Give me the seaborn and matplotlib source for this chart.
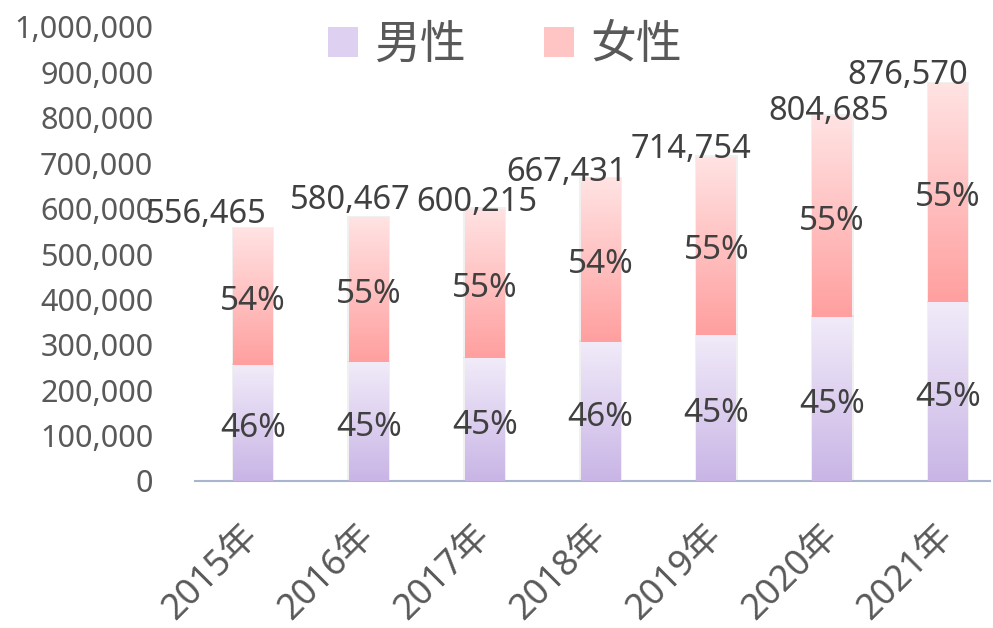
import numpy as np
import pandas as pd
import matplotlib
matplotlib.use("Agg")
import matplotlib.pyplot as plt
import seaborn as sns
from matplotlib.colors import LinearSegmentedColormap
from matplotlib.patches import Rectangle, Patch

years = ['2015年', '2016年', '2017年', '2018年', '2019年', '2020年', '2021年']
totals = [556465, 580467, 600215, 667431, 714754, 804685, 876570]
male = [255974, 261210, 270097, 307018, 321639, 362108, 394457]
male_pct = ['46%', '45%', '45%', '46%', '45%', '45%', '45%']
female_pct = ['54%', '55%', '55%', '54%', '55%', '55%', '55%']

# manual nudges of the total labels (Excel-style hand placement)
total_dx = [-0.40, -0.16, -0.07, -0.29, -0.22, -0.03, -0.35]
total_dy = [14, 17, 6, 5, 7, 4, 8]

sns.set_style("white")
plt.rcParams['font.family'] = ['Noto Sans', 'Noto Sans CJK TC', 'DejaVu Sans']

df = pd.DataFrame({'year': years, 'total': totals, 'male': male})

fig = plt.figure(figsize=(9.93, 6.28), dpi=100)
ax = fig.add_axes([195 / 993, 1 - 481 / 628, (990 - 195) / 993, (481 - 27) / 628])

bw = 0.345
sns.barplot(data=df, x='year', y='total', color='#ffb0b0', width=bw, ax=ax, zorder=2)
sns.barplot(data=df, x='year', y='male', color='#d4c4ec', width=bw, ax=ax, zorder=3)

male_cmap = LinearSegmentedColormap.from_list('m', ['#c9b5e6', '#f1ebf9'])
female_cmap = LinearSegmentedColormap.from_list('f', ['#ff9f9f', '#ffe3e3'])
grad = np.linspace(0, 1, 256).reshape(-1, 1)

n = len(years)
for i, p in enumerate(ax.patches):
    x0, y0 = p.get_x(), p.get_y()
    w, h = p.get_width(), p.get_height()
    if i < n:
        # total bar -> show female part only (from male top to total)
        ybot = male[i]
        cmap = female_cmap
        z = 2.5
    else:
        ybot = 0
        cmap = male_cmap
        z = 3.5
    ytop = y0 + h
    p.set_visible(False)
    # soft shadow
    ax.add_patch(Rectangle((x0 - 0.012, ybot), w + 0.024, ytop - ybot + 3000,
                           facecolor='#000000', alpha=0.06, edgecolor='none', zorder=1))
    clip = Rectangle((x0, ybot), w, ytop - ybot, transform=ax.transData,
                     facecolor='none', edgecolor='none')
    ax.add_patch(clip)
    im = ax.imshow(grad, cmap=cmap, origin='lower', aspect='auto',
                   extent=(x0, x0 + w, ybot, ytop), zorder=z)
    im.set_clip_path(clip)

ax.set_xlim(-0.5, n - 0.5 - 16 / 116)
ax.set_ylim(0, 1000000)
ax.set_yticks(np.arange(0, 1000001, 100000))
ax.yaxis.set_major_formatter(matplotlib.ticker.FuncFormatter(lambda v, _: f'{int(v):,}'))
ax.tick_params(axis='y', labelsize=22, colors='#595959', length=0, pad=30)
ax.set_xticks(range(n))
ax.set_xticklabels(years, rotation=45, ha='right', rotation_mode='anchor', va='center')
ax.tick_params(axis='x', labelsize=26, colors='#595959', length=0, pad=36)
ax.set_xlabel('')
ax.set_ylabel('')
for s in ['top', 'right', 'left']:
    ax.spines[s].set_visible(False)
ax.spines['bottom'].set_color('#a7b6cc')
ax.spines['bottom'].set_linewidth(1.5)

for i in range(n):
    ax.annotate(male_pct[i], (i, male[i] / 2), xytext=(0, -6 * 0.72),
                textcoords='offset points', ha='center', va='center',
                fontsize=24, color='#404040', zorder=6)
    ax.annotate(female_pct[i], (i, (male[i] + totals[i]) / 2), xytext=(0, -5 * 0.72),
                textcoords='offset points', ha='center', va='center',
                fontsize=24, color='#404040', zorder=6)
    ax.annotate(f'{totals[i]:,}', (i + total_dx[i], totals[i]),
                xytext=(0, total_dy[i] * 0.72), textcoords='offset points',
                ha='center', va='center', fontsize=23.5, color='#404040', zorder=6,
                annotation_clip=False)

handles = [Patch(facecolor='#ddd0f0', edgecolor='none'),
           Patch(facecolor='#ffc4c4', edgecolor='none')]
fig.legend(handles, ['男性', '女性'], loc='center', bbox_to_anchor=(505 / 993, 1 - 46 / 628),
           ncol=2, frameon=False, fontsize=33, labelcolor='#595959',
           handlelength=0.65, handleheight=0.65, columnspacing=1.7, handletextpad=0.35)

fig.savefig('out.png', dpi=100)
